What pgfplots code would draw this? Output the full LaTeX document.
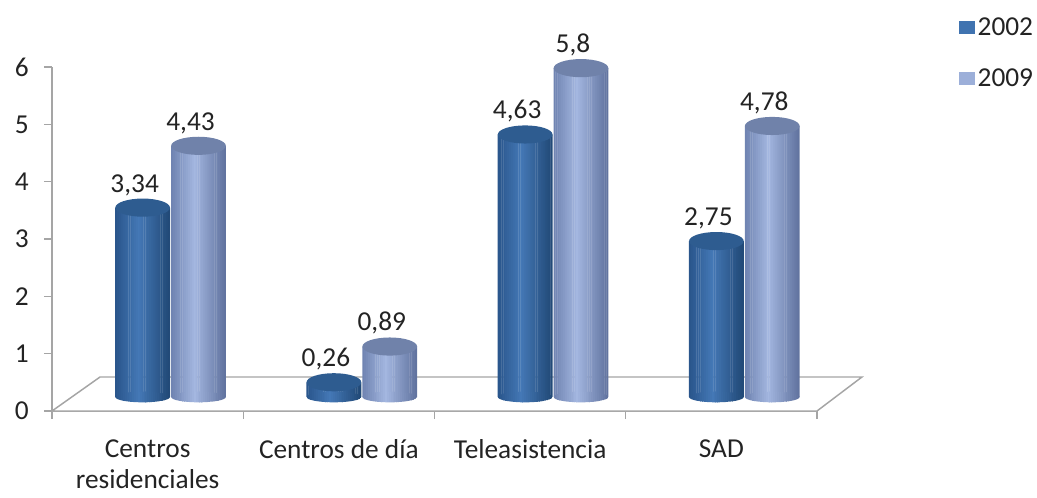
\documentclass[border=0pt]{standalone}
\usepackage{fontspec}
\setmainfont{Carlito}
\usepackage{pgfplots}
\usepackage{pgfplotstable}
\pgfplotsset{compat=1.18}
\definecolor{axisgray}{RGB}{165,165,165}
\definecolor{labeltext}{RGB}{35,35,35}
\definecolor{darkL}{RGB}{42,86,140}
\definecolor{darkM}{RGB}{68,120,182}
\definecolor{darkR}{RGB}{34,74,120}
\definecolor{darkCap}{RGB}{46,92,144}
\definecolor{lightL}{RGB}{112,132,178}
\definecolor{lightM}{RGB}{164,183,224}
\definecolor{lightR}{RGB}{98,116,160}
\definecolor{lightCap}{RGB}{112,130,170}

% bands that shade each cylinder from left to right
\foreach \k in {0,...,28}{
  \pgfmathtruncatemacro\p{\k<12 ? 100*\k/12 : 100*(28-\k)/16}
  \ifnum\k<12
    \xglobal\colorlet{darkS\k}{darkM!\p!darkL}
    \xglobal\colorlet{lightS\k}{lightM!\p!lightL}
  \else
    \xglobal\colorlet{darkS\k}{darkM!\p!darkR}
    \xglobal\colorlet{lightS\k}{lightM!\p!lightR}
  \fi
}

% cylinder ends, sized in page units
\newcommand{\cylbase}[1]{%
  \begin{scope}
    \clip[draw=none] (canvas cs:x=0pt,y=0pt) ellipse (20.5pt and 4pt);
    \foreach \k in {0,...,28}{
      \pgfmathsetmacro\xa{(\k-14.5)*1.414}
      \pgfmathsetmacro\xb{(\k-14.5)*1.414+1.6}
      \path[draw=none,fill=#1S\k] (canvas cs:x=\xa pt,y=-5pt) rectangle (canvas cs:x=\xb pt,y=5pt);
    }
  \end{scope}}
\pgfdeclareplotmark{capA}{\path[draw=none,fill=darkCap] (canvas cs:x=0pt,y=0pt) ellipse (20.5pt and 6.8pt);}
\pgfdeclareplotmark{capB}{\path[draw=none,fill=lightCap] (canvas cs:x=0pt,y=0pt) ellipse (20.5pt and 6.8pt);}
\pgfdeclareplotmark{baseA}{\cylbase{dark}}
\pgfdeclareplotmark{baseB}{\cylbase{light}}

\pgfplotstableread{
pos   a2002 a2009 base
0.5   3.34  4.43  0
1.5   0.26  0.89  0
2.5   4.63  5.80  0
3.5   2.75  4.78  0
}\datatable

\begin{document}
\begin{tikzpicture}[x=1pt,y=1pt]
\path[use as bounding box] (0,0) rectangle (777.75,372.75);

% frame: y axis, ticks, floor
\begin{axis}[
  at={(39pt,64.5pt)}, anchor=south west,
  scale only axis, width=573.75pt, height=258pt,
  xmin=0, xmax=4, ymin=0, ymax=6,
  clip=false,
  axis y line*=left, axis x line*=bottom,
  axis line style={axisgray, line width=1.1pt, -},
  tick style={axisgray, line width=1.1pt},
  tick align=outside,
  major tick length=6pt,
  ytick={0,...,6},
  xtick={0,...,4}, xticklabels={},
  extra x ticks={0.5,1.5,2.5,3.5},
  extra x tick labels={Centros\\residenciales, Centros de día, Teleasistencia, SAD},
  extra x tick style={major tick length=0pt, tick style={draw=none},
    tick label style={yshift=-21pt}},
  x tick label style={font=\fontsize{20.5}{23.5}\selectfont, align=center, anchor=north, inner ysep=0pt, text=labeltext},
  y tick label style={font=\fontsize{20.5}{22}\selectfont, text=labeltext, xshift=-8pt},
  /pgf/number format/assume math mode=true,
]
\addplot[axisgray, line width=1.1pt, fill=white] coordinates {(0,0) (0.251,0.593) (4.235,0.593) (4,0) (0,0)};
\end{axis}

% cylinders: y=0 sits on the floor, above and to the right of the axis corner
\begin{axis}[
  at={(39pt,64.5pt)}, anchor=south west,
  scale only axis, width=573.75pt, height=258pt,
  xmin=-0.12, xmax=3.88, ymin=-0.247, ymax=5.82,
  clip=false, axis lines=none,
  legend style={at={(738pt,297pt)}, anchor=north east, draw=none, fill=none,
    font=\fontsize{20.5}{22}\selectfont, text=labeltext, row sep=19pt, inner sep=0pt},
  legend image code/.code={\fill[draw=none,#1] (canvas cs:x=0pt,y=-5pt) rectangle (canvas cs:x=12pt,y=5pt);},
  nodes near coords style={font=\fontsize{20.5}{22}\selectfont, text=labeltext, anchor=south, yshift=5.5pt, xshift=-6pt,
    /pgf/number format/.cd, use comma, precision=2, assume math mode=true},
]
\addlegendimage{fill=darkM!85!darkL}
\addlegendentry{2002}
\addlegendimage{fill=lightM!85!lightL}
\addlegendentry{2009}

\addplot[forget plot, only marks, mark=baseA] table[x expr=\thisrow{pos}-0.146, y=base] {\datatable};
\pgfplotsinvokeforeach{0,...,28}{
  \addplot[forget plot, ybar, bar width=1.6pt, bar shift=(#1-14)*1.414pt, draw=none, fill=darkS#1]
    table[x expr=\thisrow{pos}-0.146, y=a2002] {\datatable};
}
\addplot[forget plot, only marks, mark=capA, nodes near coords] table[x expr=\thisrow{pos}-0.146, y=a2002] {\datatable};

\addplot[forget plot, only marks, mark=baseB] table[x expr=\thisrow{pos}+0.146, y=base] {\datatable};
\pgfplotsinvokeforeach{0,...,28}{
  \addplot[forget plot, ybar, bar width=1.6pt, bar shift=(#1-14)*1.414pt, draw=none, fill=lightS#1]
    table[x expr=\thisrow{pos}+0.146, y=a2009] {\datatable};
}
\addplot[forget plot, only marks, mark=capB, nodes near coords] table[x expr=\thisrow{pos}+0.146, y=a2009] {\datatable};
\end{axis}
\end{tikzpicture}
\end{document}
